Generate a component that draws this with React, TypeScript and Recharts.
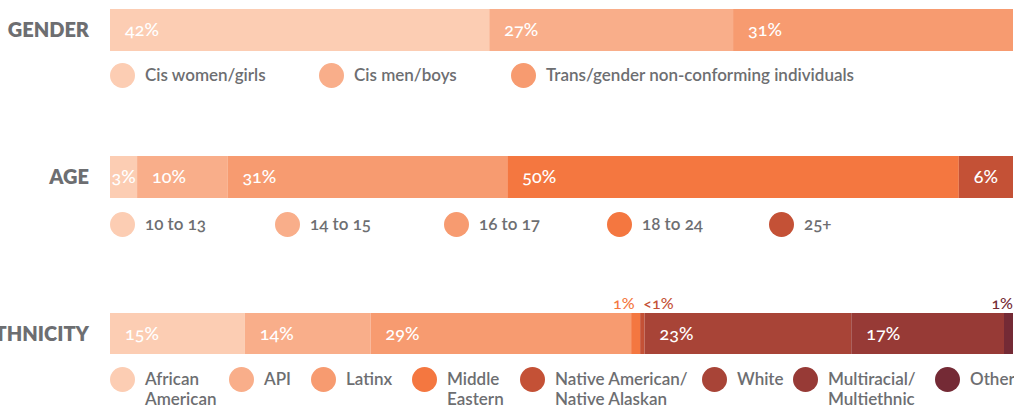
import React from 'react';
import { BarChart, Bar, XAxis, YAxis, LabelList } from 'recharts';

// ---------- data ----------
const genderTitle = 'GENDER';
const genderCategories = ['Cis women/girls', 'Cis men/boys', 'Trans/gender non-conforming individuals'];
const genderValues = [42, 27, 31];
const genderLabels = ['42%', '27%', '31%'];
const genderPlacements = ['inside', 'inside', 'inside'];

const ageTitle = 'AGE';
const ageCategories = ['10 to 13', '14 to 15', '16 to 17', '18 to 24', '25+'];
const ageValues = [3, 10, 31, 50, 6];
const ageLabels = ['3%', '10%', '31%', '50%', '6%'];
const agePlacements = ['inside', 'inside', 'inside', 'inside', 'inside'];

const ethnicityTitle = 'ETHNICITY';
const ethnicityCategories = [
  'African\nAmerican',
  'API',
  'Latinx',
  'Middle\nEastern',
  'Native American/\nNative Alaskan',
  'White',
  'Multiracial/\nMultiethnic',
  'Other',
];
const ethnicityValues = [15, 14, 29, 1, 0.5, 23, 17, 1];
const ethnicityLabels = ['15%', '14%', '29%', '1%', '<1%', '23%', '17%', '1%'];
const ethnicityPlacements = ['inside', 'inside', 'inside', 'aboveLeft', 'aboveRight', 'inside', 'inside', 'aboveEnd'];

// ---------- styles ----------
const C_PEACH = '#fccdb3';
const C_SALMON = '#f9ae8a';
const C_CORAL = '#f79b70';
const C_ORANGE = '#f47740';
const C_RUST = '#c45136';
const C_BRICK = '#a84437';
const C_MAROON = '#973a36';
const C_WINE = '#742a35';

const genderColors = [C_PEACH, C_SALMON, C_CORAL];
const ageColors = [C_PEACH, C_SALMON, C_CORAL, C_ORANGE, C_RUST];
const ethnicityColors = [C_PEACH, C_SALMON, C_CORAL, C_ORANGE, C_RUST, C_BRICK, C_MAROON, C_WINE];

const genderLegendWidths = [209, 192, 400];
const ageLegendWidths = [165, 169, 163, 162, 160];
const ethnicityLegendWidths = [119, 82, 101, 108, 182, 91, 142, 80];

const FONT = 'Lato, "Open Sans", sans-serif';
const GRAY = '#6d6e71';
const W = 1014;
const AXIS_W = 110;

function CategoryTick(props: any) {
  const { y, payload } = props;
  return (
    <text
      x={AXIS_W - 21}
      y={y}
      dy="0.36em"
      textAnchor="end"
      fill={GRAY}
      fontFamily={FONT}
      fontWeight={800}
      fontSize={20}
    >
      {payload.value}
    </text>
  );
}

function makeLabel(text: string, placement: string, color: string) {
  return (p: any) => {
    const x = Number(p.x);
    const y = Number(p.y);
    const w = Number(p.width);
    const h = Number(p.height);
    const common = {
      fontFamily: FONT,
      style: { fontVariantNumeric: 'oldstyle-nums' } as React.CSSProperties,
    };
    if (placement === 'inside') {
      const narrow = w < 40;
      return (
        <text
          {...common}
          x={narrow ? x + w / 2 : x + 15}
          y={y + h / 2}
          dy="0.34em"
          textAnchor={narrow ? 'middle' : 'start'}
          fill="#ffffff"
          fontSize={18}
          fontWeight={500}
        >
          {text}
        </text>
      );
    }
    let tx = x + w / 2;
    let anchor: 'start' | 'end' | 'middle' = 'middle';
    if (placement === 'aboveLeft') { tx = x + w / 2 - 1; anchor = 'end'; }
    if (placement === 'aboveRight') { tx = x + w / 2 + 1; anchor = 'start'; }
    if (placement === 'aboveEnd') { tx = x + w; anchor = 'end'; }
    return (
      <text
        {...common}
        x={tx}
        y={y - 9}
        dy="0.34em"
        textAnchor={anchor}
        fill={color}
        fontSize={16}
        fontWeight={500}
      >
        {text}
      </text>
    );
  };
}

function StackRow(props: {
  title: string;
  values: number[];
  labels: string[];
  placements: string[];
  colors: string[];
  top: number;
  marginTop: number;
  barH: number;
}) {
  const { title, values, labels, placements, colors, top, marginTop, barH } = props;
  const row: any = { name: title };
  values.forEach((v, i) => {
    row['s' + i] = v;
  });
  return (
    <div style={{ position: 'absolute', left: 0, top }}>
      <BarChart
        width={W}
        height={marginTop + barH}
        data={[row]}
        layout="vertical"
        margin={{ top: marginTop, right: 1, bottom: 0, left: 0 }}
        barCategoryGap={0}
        style={{ overflow: 'visible' }}
      >
        <XAxis type="number" hide domain={[0, 'dataMax']} />
        <YAxis
          type="category"
          dataKey="name"
          width={AXIS_W}
          axisLine={false}
          tickLine={false}
          tick={<CategoryTick />}
        />
        {values.map((_, i) => (
          <Bar key={i} dataKey={'s' + i} stackId="a" fill={colors[i]} isAnimationActive={false}>
            <LabelList dataKey={'s' + i} content={makeLabel(labels[i], placements[i], colors[i])} />
          </Bar>
        ))}
      </BarChart>
    </div>
  );
}

function Legend(props: { categories: string[]; colors: string[]; widths: number[]; top: number }) {
  const { categories, colors, widths, top } = props;
  return (
    <div style={{ position: 'absolute', left: 110, top, display: 'flex', fontFamily: FONT }}>
      {categories.map((c, i) => (
        <div key={i} style={{ width: widths[i], display: 'flex', alignItems: 'flex-start', flexShrink: 0 }}>
          <span
            style={{
              width: 25,
              height: 25,
              borderRadius: 13,
              background: colors[i],
              flexShrink: 0,
              display: 'block',
            }}
          />
          <span
            style={{
              marginLeft: 10,
              marginTop: 2,
              whiteSpace: 'pre',
              lineHeight: '20px',
              fontSize: 17,
              fontWeight: 600,
              color: GRAY,
              fontVariantNumeric: 'oldstyle-nums',
            }}
          >
            {c}
          </span>
        </div>
      ))}
    </div>
  );
}

export default function App() {
  return (
    <div
      style={{
        position: 'absolute',
        left: 0,
        top: 0,
        width: W,
        height: 409,
        overflow: 'hidden',
        background: '#ffffff',
      }}
    >
      <StackRow
        title={genderTitle}
        values={genderValues}
        labels={genderLabels}
        placements={genderPlacements}
        colors={genderColors}
        top={0}
        marginTop={9}
        barH={42}
      />
      <Legend categories={genderCategories} colors={genderColors} widths={genderLegendWidths} top={63} />
      <StackRow
        title={ageTitle}
        values={ageValues}
        labels={ageLabels}
        placements={agePlacements}
        colors={ageColors}
        top={147}
        marginTop={9}
        barH={42}
      />
      <Legend categories={ageCategories} colors={ageColors} widths={ageLegendWidths} top={212} />
      <StackRow
        title={ethnicityTitle}
        values={ethnicityValues}
        labels={ethnicityLabels}
        placements={ethnicityPlacements}
        colors={ethnicityColors}
        top={290}
        marginTop={23}
        barH={41}
      />
      <Legend categories={ethnicityCategories} colors={ethnicityColors} widths={ethnicityLegendWidths} top={367} />
    </div>
  );
}
